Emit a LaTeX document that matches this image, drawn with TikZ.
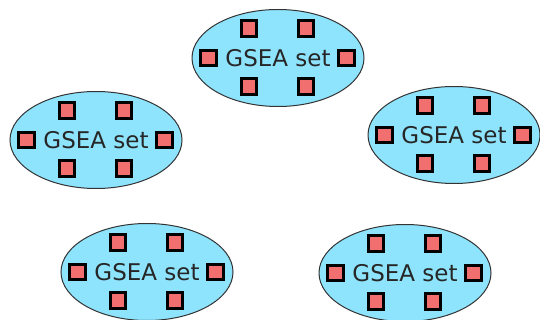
\documentclass[tikz,border=0pt]{standalone}
\usepackage{fontspec}
\setmainfont{DejaVu Sans}
\usetikzlibrary{shapes.geometric}
\definecolor{setblue}{HTML}{8EE4FD}
\definecolor{genered}{HTML}{F26F6F}
\definecolor{rimgray}{HTML}{333333}
\tikzset{
  setoval/.style={ellipse, draw=rimgray, line width=1pt, fill=setblue,
    minimum width=172pt, minimum height=97pt, inner sep=0pt,
    font=\fontsize{23}{23}\selectfont, text=black!85},
  genebox/.style={rectangle, draw=black, line width=3.3pt, fill=genered,
    minimum size=15.5pt, inner sep=0pt},
}
% one gene set: an oval labelled "GSEA set" with six gene boxes
\newcommand{\genesetoval}[3]{%
  \node[setoval] (#1) at (#2pt,-#3pt) {GSEA set};
  \node[genebox] (#1-tl) at ([shift={(-29pt,29.5pt)}]#1.center) {};
  \node[genebox] (#1-tr) at ([shift={(28pt,29.5pt)}]#1.center) {};
  \node[genebox] (#1-l)  at ([shift={(-69.5pt,0pt)}]#1.center) {};
  \node[genebox] (#1-r)  at ([shift={(68.5pt,0pt)}]#1.center) {};
  \node[genebox] (#1-bl) at ([shift={(-29pt,-28.5pt)}]#1.center) {};
  \node[genebox] (#1-br) at ([shift={(28pt,-28.5pt)}]#1.center) {};
}
\begin{document}
\begin{tikzpicture}
  \useasboundingbox (0pt,0pt) rectangle (540pt,-320pt);
  \genesetoval{top}{278}{58}
  \genesetoval{midleft}{96}{140}
  \genesetoval{midright}{454}{135}
  \genesetoval{botleft}{147}{272}
  \genesetoval{botright}{405}{273}
\end{tikzpicture}
\end{document}
